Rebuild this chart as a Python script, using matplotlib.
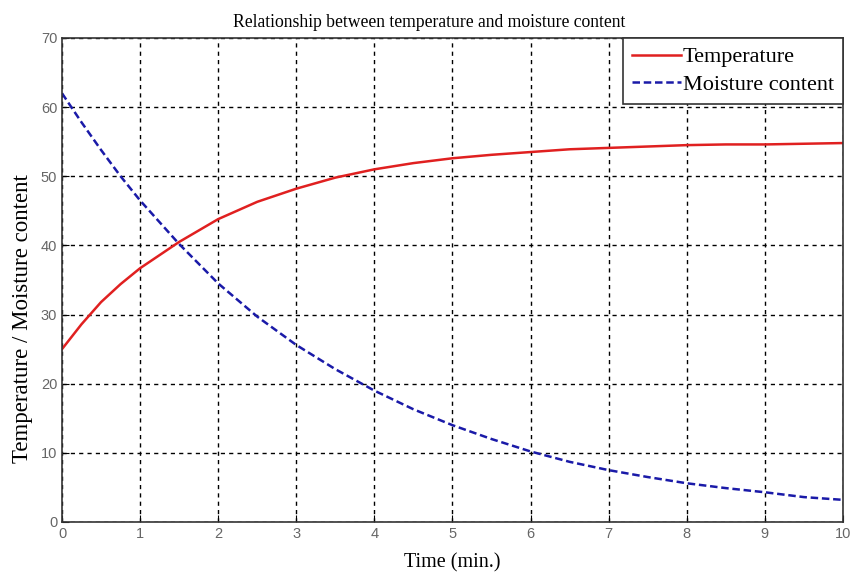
import matplotlib
matplotlib.use('Agg')
import matplotlib.pyplot as plt

time = [0, 0.25, 0.5, 0.75, 1, 1.5, 2, 2.5, 3, 3.5, 4, 4.5, 5, 5.5, 6, 6.5, 7, 7.5, 8, 8.5, 9, 9.5, 10]
temperature = [25, 28.6, 31.8, 34.4, 36.7, 40.5, 43.8, 46.3, 48.2, 49.8, 51, 51.9, 52.6, 53.1, 53.5,
               53.9, 54.1, 54.3, 54.5, 54.6, 54.6, 54.7, 54.8]
moisture = [62, 57.8, 53.8, 50, 46.5, 40.2, 34.5, 29.7, 25.6, 22.1, 19, 16.3, 14, 12, 10.2,
            8.7, 7.5, 6.5, 5.6, 4.9, 4.3, 3.6, 3.2]

serif = 'Liberation Serif'

fig = plt.figure(figsize=(8.54, 5.75), dpi=100)
ax = fig.add_axes([0.0726, 0.0922, 0.9144, 0.8418])

ax.plot(time, temperature, color='#e02020', linewidth=1.8, label='Temperature')
ax.plot(time, moisture, color='#1a1aa8', linewidth=1.8, linestyle=(0, (3, 1.5)),
        label='Moisture content')

ax.set_xlim(0, 10)
ax.set_ylim(0, 70)
ax.set_xticks(range(0, 11))
ax.set_yticks(range(0, 71, 10))
ax.grid(True, color='black', linestyle=(0, (3, 3)), linewidth=1.0)
ax.tick_params(direction='in', length=5, labelsize=10.5, labelcolor='#666666', color='black')
for lab in ax.get_xticklabels() + ax.get_yticklabels():
    lab.set_family('Liberation Sans')
for s in ax.spines.values():
    s.set_linewidth(1.2)
    s.set_color('#333333')

ax.set_title('Relationship between temperature and moisture content', family=serif,
             fontsize=12.7, x=0.47, pad=8)
ax.set_xlabel('Time (min.)', family=serif, fontsize=14.5, labelpad=9)
ax.set_ylabel('Temperature / Moisture content', family=serif, fontsize=16.5)
ax.yaxis.set_label_coords(-0.037, 0.42)

leg = ax.legend(loc='upper right', prop={'family': serif, 'size': 16}, fancybox=False,
                framealpha=1, edgecolor='#333333', handlelength=2.2, handletextpad=0.1,
                borderaxespad=0, borderpad=0.4, labelspacing=0.3)
leg.get_frame().set_linewidth(1.2)

fig.savefig('out.png', dpi=100)
